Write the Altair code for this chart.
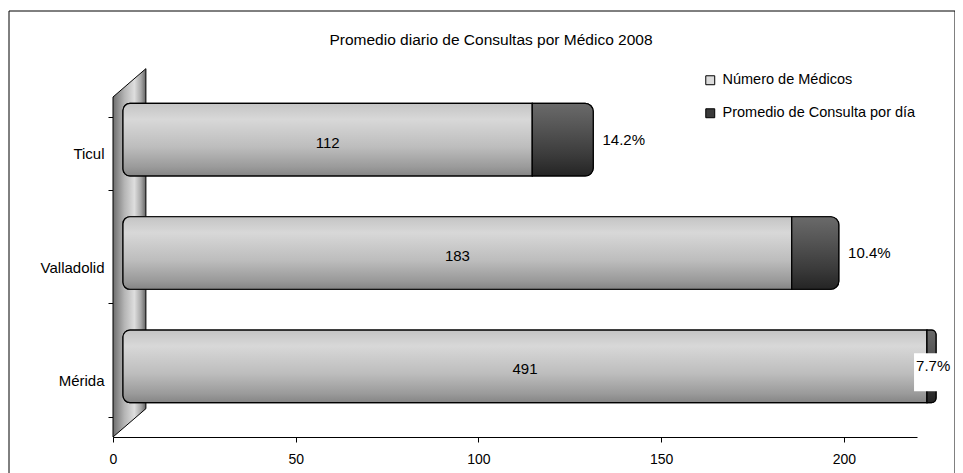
import altair as alt
import pandas as pd

# ---------------- data ----------------
ciudades = ["Ticul", "Valladolid", "Mérida"]
num_medicos = [112, 183, 491]
promedio_consulta = [14.2, 10.4, 7.7]
series = ["Número de Médicos", "Promedio de Consulta por día"]
x_ticks = [0, 50, 100, 150, 200]
titulo = "Promedio diario de Consultas por Médico 2008"

# ---------------- style / layout constants ----------------
FONT = "Liberation Sans"
X_MAX = 220          # axis maximum (bars longer than this are cut)
LABEL_GAP = 5        # gap between bar end and percentage label (data units)
LABEL_BOX = 9.6      # width of the white box behind percentage labels (data units)
DEPTH_X = 10         # 3D depth shift of the bars (px)
DEPTH_Y = -14
CAP_PX = 9           # bulge of the cylinder's end cap (px)
WALL_DEPTH = 9       # depth of the back wall (x units)
WALL_RISE = 0.25     # rise of the back wall (band units)
W, H = 804, 340

grey_df = pd.DataFrame({
    "ciudad": ciudades,
    "serie": series[0],
    "start": [0 for _ in num_medicos],
    "end": [min(v, X_MAX) for v in num_medicos],
    "mid": [min(v, X_MAX) / 2 for v in num_medicos],
    "label": [str(v) for v in num_medicos],
})
pct_pos = [min(m + p + LABEL_GAP, X_MAX - 3) for m, p in zip(num_medicos, promedio_consulta)]
dark_df = pd.DataFrame({
    "ciudad": ciudades,
    "serie": series[1],
    "start": [min(m, X_MAX) for m in num_medicos],
    "end": [min(m + p, X_MAX) for m, p in zip(num_medicos, promedio_consulta)],
    "pos": pct_pos,
    "pos_end": [q + LABEL_BOX for q in pct_pos],
    "label": [f"{p}%" for p in promedio_consulta],
})
wall_df = pd.DataFrame({
    "x": [0, WALL_DEPTH],
    "y": [0, WALL_RISE],
    "y2": [len(ciudades), len(ciudades) + WALL_RISE],
})


def grad(stops, horizontal=False):
    return alt.LinearGradient(
        gradient="linear",
        stops=[alt.GradientStop(offset=o, color=c) for o, c in stops],
        x1=0, y1=0,
        x2=1 if horizontal else 0,
        y2=0 if horizontal else 1,
    )


grey_grad = grad([(0, "#c4c4c4"), (0.22, "#d8d8d8"), (0.6, "#bdbdbd"), (0.88, "#9a9a9a"), (1, "#858585")])
dark_grad = grad([(0, "#6a6a6a"), (0.3, "#575757"), (0.7, "#3c3c3c"), (1, "#242424")])
wall_grad = grad([(0, "#6e6e6e"), (0.35, "#b5b5b5"), (0.65, "#dedede"), (0.85, "#a8a8a8"), (1, "#646464")], horizontal=True)

x_scale = alt.Scale(domain=[0, X_MAX], nice=False, zero=True)
x_axis = alt.Axis(values=x_ticks, title=None, labelFontSize=14, labelFont=FONT,
                  labelColor="black", tickColor="black", domainColor="black",
                  tickSize=5, labelPadding=10, grid=False, labelFlush=False)
y_axis = alt.Axis(title=None, orient="left", labelFontSize=15, labelFont=FONT,
                  labelColor="black", tickColor="black", domainColor="black",
                  tickSize=5, labelPadding=4, tickBand="extent", grid=False)
y_enc = alt.Y("ciudad:N", sort=ciudades,
              scale=alt.Scale(domain=ciudades, paddingInner=0.36, paddingOuter=0.18),
              axis=y_axis)

grey_common = dict(xOffset=DEPTH_X, x2Offset=DEPTH_X, yOffset=DEPTH_Y, y2Offset=DEPTH_Y,
                   stroke="black", strokeWidth=1.2,
                   cornerRadiusTopLeft=7, cornerRadiusBottomLeft=7)
dark_common = dict(xOffset=DEPTH_X, x2Offset=DEPTH_X + CAP_PX, yOffset=DEPTH_Y, y2Offset=DEPTH_Y,
                   stroke="black", strokeWidth=1.2,
                   cornerRadiusTopRight=8, cornerRadiusBottomRight=8)

color_enc = alt.Color(
    "serie:N",
    scale=alt.Scale(domain=series, range=["#dcdcdc", "#3a3a3a"]),
    legend=alt.Legend(title=None, orient="none", legendX=590, legendY=-24,
                      labelFontSize=14.5, labelFont=FONT, labelColor="black", labelLimit=400,
                      symbolType="square", symbolSize=80, symbolStrokeColor="black",
                      symbolStrokeWidth=1, rowPadding=18, labelOffset=5, padding=0),
)

grey_legend = alt.Chart(grey_df).mark_bar(**grey_common).encode(
    x=alt.X("start:Q", scale=x_scale, axis=x_axis), x2="end:Q", y=y_enc, color=color_enc)
grey_bars = alt.Chart(grey_df).mark_bar(fill=grey_grad, **grey_common).encode(
    x=alt.X("start:Q", scale=x_scale, axis=x_axis), x2="end:Q", y=y_enc)
dark_legend = alt.Chart(dark_df).mark_bar(**dark_common).encode(
    x=alt.X("start:Q", scale=x_scale, axis=x_axis), x2="end:Q", y=y_enc, color=color_enc)
dark_bars = alt.Chart(dark_df).mark_bar(fill=dark_grad, **dark_common).encode(
    x=alt.X("start:Q", scale=x_scale, axis=x_axis), x2="end:Q", y=y_enc)

label_box = alt.Chart(dark_df).mark_bar(
    fill="white", height=38, xOffset=DEPTH_X - 2, x2Offset=DEPTH_X, yOffset=DEPTH_Y + 6, y2Offset=DEPTH_Y + 6
).encode(x=alt.X("pos:Q", scale=x_scale, axis=x_axis), x2="pos_end:Q", y=y_enc)

count_text = alt.Chart(grey_df).mark_text(
    font=FONT, fontSize=15, color="black", dx=DEPTH_X, dy=DEPTH_Y + 3
).encode(x=alt.X("mid:Q", scale=x_scale, axis=x_axis), y=y_enc, text="label:N")
pct_text = alt.Chart(dark_df).mark_text(
    font=FONT, fontSize=15, color="black", align="left", dx=DEPTH_X, dy=DEPTH_Y
).encode(x=alt.X("pos:Q", scale=x_scale, axis=x_axis), y=y_enc, text="label:N")

bars = alt.layer(grey_legend, grey_bars, dark_legend, dark_bars, label_box, count_text, pct_text)

wall = alt.Chart(wall_df).mark_area(fill=wall_grad, stroke="black", strokeWidth=1).encode(
    x=alt.X("x:Q", scale=x_scale, axis=x_axis),
    y=alt.Y("y:Q", scale=alt.Scale(domain=[0, len(ciudades)], nice=False, zero=False), axis=None),
    y2="y2:Q",
)

frame = alt.Chart(alt.Data(values=[{"a": 1}])).mark_rect(
    filled=False, color="black", strokeWidth=1
).encode(x=alt.value(-104), x2=alt.value(842), y=alt.value(-86), y2=alt.value(420))

chart = alt.layer(wall, bars, frame).resolve_scale(y="independent").properties(
    width=W, height=H,
    title=alt.TitleParams(titulo, font=FONT, fontSize=15.5, fontWeight="normal",
                          color="black", anchor="middle", frame="group", dx=-24, offset=-38),
    autosize=alt.AutoSizeParams(type="none"),
    padding={"left": 105, "top": 89, "right": 38, "bottom": 36},
).configure_view(strokeWidth=0, fill="white")

chart.save("out.html", embed_options={"renderer": "svg", "actions": False})
